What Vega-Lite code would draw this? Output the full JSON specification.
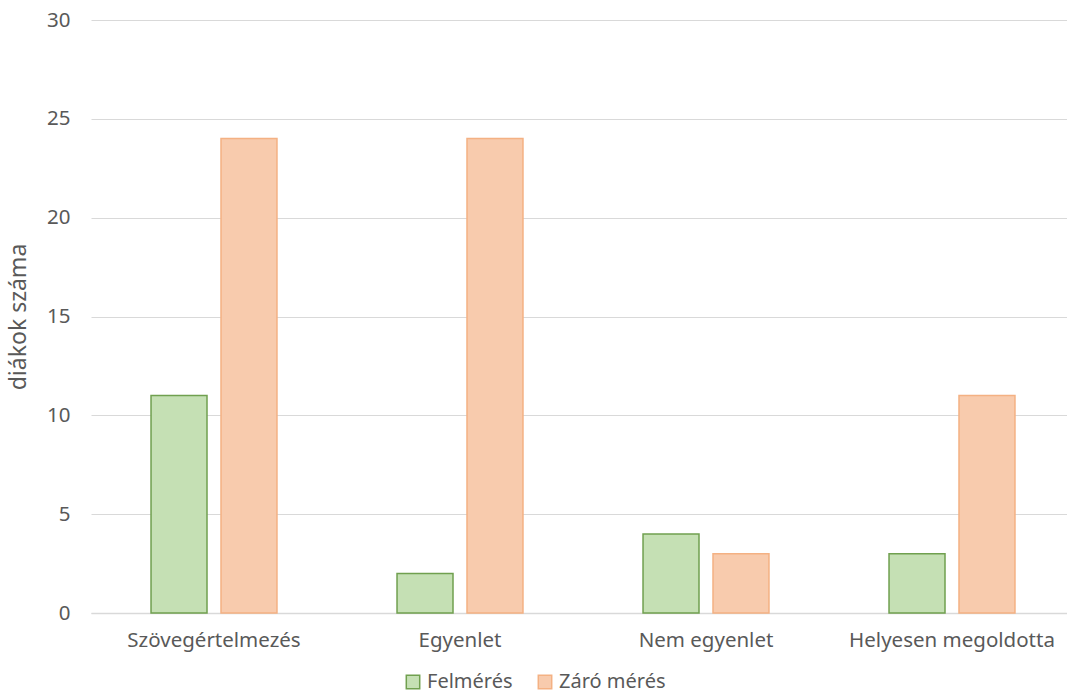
{
  "$schema": "https://vega.github.io/schema/vega-lite/v6.json",
  "width": 976,
  "height": 593,
  "autosize": {"type": "none"},
  "padding": {"left": 91, "top": 20, "right": 0, "bottom": 80},
  "background": "white",
  "config": {
    "font": "Noto Sans",
    "view": {"stroke": null}
  },
  "data": {
    "values": [
      {"kategoria": "Szövegértelmezés", "sorozat": "Felmérés", "ertek": 11},
      {"kategoria": "Szövegértelmezés", "sorozat": "Záró mérés", "ertek": 24},
      {"kategoria": "Egyenlet", "sorozat": "Felmérés", "ertek": 2},
      {"kategoria": "Egyenlet", "sorozat": "Záró mérés", "ertek": 24},
      {"kategoria": "Nem egyenlet", "sorozat": "Felmérés", "ertek": 4},
      {"kategoria": "Nem egyenlet", "sorozat": "Záró mérés", "ertek": 3},
      {"kategoria": "Helyesen megoldotta", "sorozat": "Felmérés", "ertek": 3},
      {"kategoria": "Helyesen megoldotta", "sorozat": "Záró mérés", "ertek": 11}
    ]
  },
  "mark": {"type": "bar", "strokeWidth": 1.5},
  "encoding": {
    "x": {
      "field": "kategoria",
      "type": "nominal",
      "sort": null,
      "scale": {"range": [0, 984], "paddingInner": 0.488, "paddingOuter": 0.244},
      "axis": {
        "title": null,
        "labelAngle": 0,
        "labelFontSize": 20.5,
        "labelColor": "#595959",
        "labelPadding": 17,
        "labelLimit": 0,
        "labelOverlap": false,
        "ticks": false,
        "domainColor": "#d9d9d9",
        "domainWidth": 1.5,
        "grid": false
      }
    },
    "xOffset": {
      "field": "sorozat",
      "type": "nominal",
      "scale": {"paddingInner": 0.2, "paddingOuter": 0}
    },
    "y": {
      "field": "ertek",
      "type": "quantitative",
      "scale": {"domain": [0, 30]},
      "axis": {
        "title": "diákok száma",
        "titleFontSize": 23,
        "titleFontWeight": "normal",
        "titleColor": "#595959",
        "titlePadding": 16,
        "values": [0, 5, 10, 15, 20, 25, 30],
        "labelFontSize": 20.5,
        "labelColor": "#595959",
        "labelPadding": 21,
        "ticks": false,
        "domain": false,
        "gridColor": "#d9d9d9",
        "gridWidth": 1.2
      }
    },
    "fill": {
      "field": "sorozat",
      "type": "nominal",
      "scale": {"domain": ["Felmérés", "Záró mérés"], "range": ["#c5e0b4", "#f8cbad"]},
      "legend": {
        "title": null,
        "orient": "none",
        "direction": "horizontal",
        "legendX": 312,
        "legendY": 652,
        "symbolType": "square",
        "symbolSize": 180,
        "symbolStrokeWidth": 1.5,
        "labelFontSize": 20,
        "labelColor": "#595959",
        "labelOffset": 4,
        "columnPadding": 22
      }
    },
    "stroke": {
      "field": "sorozat",
      "type": "nominal",
      "scale": {"domain": ["Felmérés", "Záró mérés"], "range": ["#70a04f", "#f4b183"]},
      "legend": null
    }
  }
}
